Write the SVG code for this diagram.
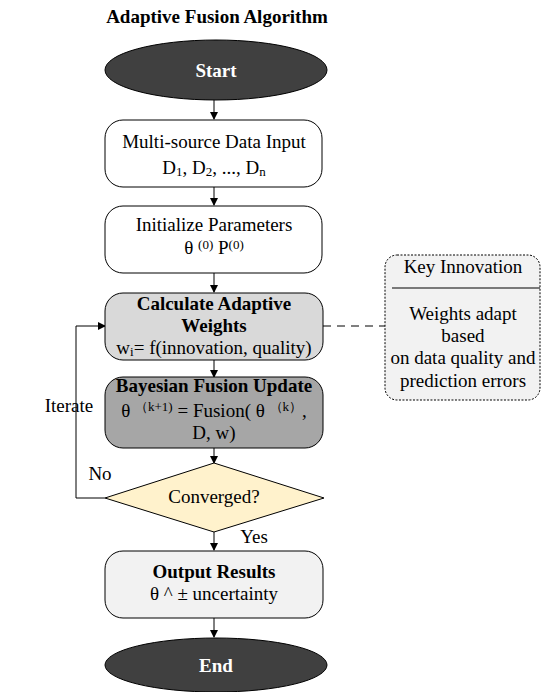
<svg xmlns="http://www.w3.org/2000/svg" width="546" height="692" viewBox="0 0 546 692">
<style>
text{font-family:"Liberation Serif","Times New Roman",serif;font-size:19px;fill:#000;text-anchor:middle}
.b{font-weight:bold}
.w{fill:#fff;font-weight:bold}
.sup{font-size:13px}
.box{stroke:#000;stroke-width:1}
.ln{stroke:#000;stroke-width:1;fill:none}
</style>
<defs>
<marker id="ah" markerWidth="8" markerHeight="8" refX="7" refY="4" orient="auto" markerUnits="userSpaceOnUse">
<path d="M0,0 L8,4 L0,8 Z" fill="#000"/>
</marker>
</defs>
<rect width="546" height="692" fill="#fff"/>
<text id="title" class="b" x="217" y="23" font-size="18">Adaptive Fusion Algorithm</text>

<g id="connectors">
<line class="ln" x1="214" y1="100" x2="214" y2="119" marker-end="url(#ah)"/>
<line class="ln" x1="214" y1="187" x2="214" y2="205" marker-end="url(#ah)"/>
<line class="ln" x1="214" y1="273" x2="214" y2="292" marker-end="url(#ah)"/>
<line class="ln" x1="214" y1="360" x2="214" y2="377" marker-end="url(#ah)"/>
<line class="ln" x1="214" y1="448" x2="214" y2="463" marker-end="url(#ah)"/>
<line class="ln" x1="214" y1="532" x2="214" y2="550" marker-end="url(#ah)"/>
<line class="ln" x1="214" y1="618" x2="214" y2="637" marker-end="url(#ah)"/>
<polyline class="ln" points="105,498 76,498 76,326 105,326" marker-end="url(#ah)"/>
<line class="ln" x1="323" y1="326" x2="385" y2="326" stroke-dasharray="8,6" stroke="#555"/>
<text x="69" y="412">Iterate</text>
<text x="100" y="480">No</text>
<text x="254" y="543">Yes</text>
</g>

<g id="start">
<ellipse class="box" cx="216" cy="70" rx="111" ry="30" fill="#404040"/>
<text class="w" x="216" y="77">Start</text>
</g>

<g id="input">
<rect class="box" x="105" y="120" width="217" height="67" rx="18" fill="#fff"/>
<text x="214" y="148">Multi-source Data Input</text>
<text x="214" y="174">D<tspan class="sup" dy="2">1</tspan><tspan dy="-2">, D</tspan><tspan class="sup" dy="2">2</tspan><tspan dy="-2">, ..., D</tspan><tspan class="sup" dy="2">n</tspan></text>
</g>

<g id="init">
<rect class="box" x="105" y="206" width="217" height="67" rx="18" fill="#fff"/>
<text x="214" y="231">Initialize Parameters</text>
<text x="214" y="254">θ <tspan class="sup" dy="-5">(0)</tspan><tspan dy="5"> P</tspan><tspan class="sup" dy="-5">(0)</tspan></text>
</g>

<g id="weights">
<rect class="box" x="105" y="293" width="218" height="67" rx="18" fill="#d9d9d9"/>
<text class="b" x="214" y="310">Calculate Adaptive</text>
<text class="b" x="214" y="332">Weights</text>
<text x="214" y="354">w<tspan class="sup" dy="2">i</tspan><tspan dy="-2">= f(innovation, quality)</tspan></text>
</g>

<g id="bayes">
<rect class="box" x="105" y="377" width="218" height="71" rx="18" fill="#a6a6a6"/>
<text class="b" x="214" y="392">Bayesian Fusion Update</text>
<text x="214" y="417">θ <tspan class="sup" dy="-6">（k+1)</tspan><tspan dy="6"> = Fusion( θ </tspan><tspan class="sup" dy="-6">（k）</tspan><tspan dy="6">,</tspan></text>
<text x="214" y="439">D, w)</text>
</g>

<g id="converged">
<polygon class="box" points="214,463 324,498 214,532 105,498" fill="#fff2cc"/>
<text x="214" y="503">Converged?</text>
</g>

<g id="output">
<rect class="box" x="105" y="551" width="218" height="67" rx="18" fill="#f2f2f2"/>
<text class="b" x="214" y="578">Output Results</text>
<text x="214" y="600">θ ^ ± uncertainty</text>
</g>

<g id="end">
<ellipse class="box" cx="216" cy="665" rx="111" ry="27" fill="#404040"/>
<text class="w" x="216" y="672">End</text>
</g>

<g id="innovation">
<rect x="385" y="255" width="155" height="145" rx="12" fill="#f2f2f2" stroke="#000" stroke-dasharray="2,1.5"/>
<text x="463" y="273">Key Innovation</text>
<line x1="392" y1="288" x2="540" y2="288" stroke="#000"/>
<text x="463" y="320">Weights adapt</text>
<text x="463" y="342">based</text>
<text x="463" y="364">on data quality and</text>
<text x="463" y="387">prediction errors</text>
</g>
</svg>
